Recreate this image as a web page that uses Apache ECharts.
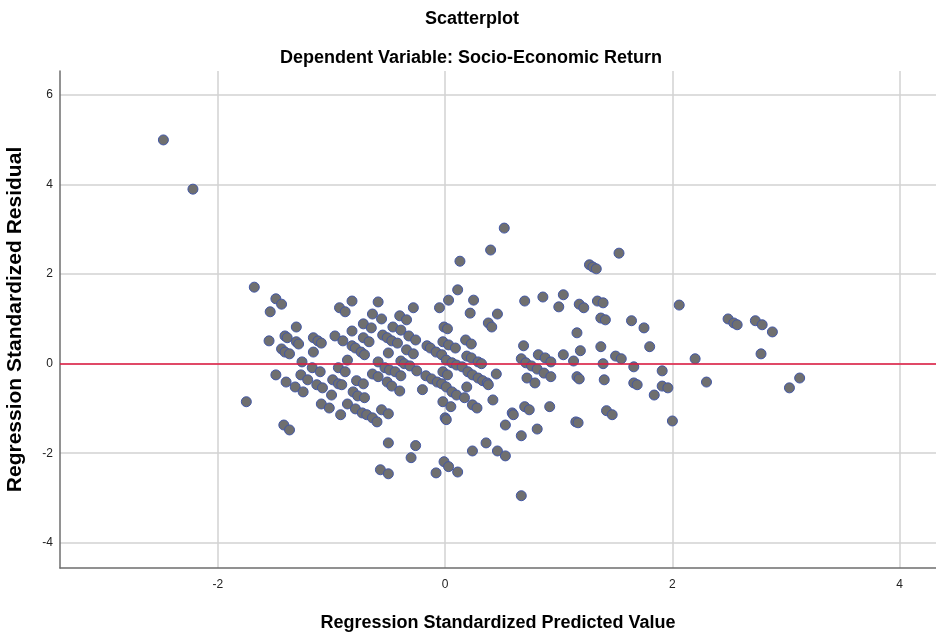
<!DOCTYPE html>
<html>
<head>
<meta charset="utf-8">
<script src="https://cdn.jsdelivr.net/npm/echarts@6/dist/echarts.min.js"></script>
<style>html,body{margin:0;padding:0;background:#fff}#c{width:936px;height:636px}</style>
</head>
<body>
<div id="c"></div>
<script>
// Chart text
const titleText = 'Scatterplot';
const subtitleText = 'Dependent Variable: Socio-Economic Return';
const xAxisTitle = 'Regression Standardized Predicted Value';
const yAxisTitle = 'Regression Standardized Residual';
const xTicks = [-2, 0, 2, 4];
const yTicks = [-4, -2, 0, 2, 4, 6];
const referenceY = 0;

// [predicted, residual] pairs, grouped by predicted-value band
const pointsOutliers = [[-2.48,5.00],[-2.22,3.90]];
const pointsFarLeft = [
  [-1.68,1.71],[-1.49,1.45],[-1.44,1.33],[-1.54,1.16],[-1.31,0.82],[-1.55,0.51],[-1.41,0.62],[-1.39,0.58],
  [-1.31,0.49],[-1.29,0.44],[-1.16,0.58],[-1.12,0.51],[-1.09,0.46],[-0.97,0.62],[-1.44,0.33],[-1.41,0.26],
  [-1.37,0.22],[-1.16,0.26],[-1.26,0.04],[-1.17,-0.09],[-1.10,-0.18],[-0.94,-0.09],[-1.49,-0.25],[-1.27,-0.25],
  [-1.21,-0.36],[-1.40,-0.41],[-1.32,-0.52],[-1.25,-0.63],[-1.13,-0.47],[-1.08,-0.54],[-0.99,-0.36],[-0.94,-0.45],
  [-1.75,-0.85],[-1.09,-0.90],[-1.02,-0.99],[-1.00,-0.70],[-1.42,-1.37],[-1.37,-1.48]
];
const pointsLeft = [
  [-0.82,1.40],[-0.93,1.25],[-0.88,1.16],[-0.59,1.38],[-0.64,1.11],[-0.56,1.00],[-0.72,0.89],[-0.65,0.80],
  [-0.82,0.73],[-0.90,0.51],[-0.72,0.58],[-0.67,0.49],[-0.82,0.40],[-0.79,0.35],[-0.74,0.26],[-0.71,0.20],
  [-0.86,0.08],[-0.55,0.64],[-0.51,0.58],[-0.47,0.51],[-0.42,0.46],[-0.46,0.82],[-0.40,1.07],[-0.34,0.98],
  [-0.28,1.25],[-0.39,0.75],[-0.32,0.62],[-0.26,0.53],[-0.34,0.31],[-0.28,0.22],[-0.50,0.24],[-0.59,0.04],
  [-0.39,0.06],[-0.36,0.00],[-0.31,-0.05],[-0.25,-0.16],[-0.16,0.40],[-0.13,0.35],[-0.08,0.26],[-0.05,1.25],
  [-0.88,-0.18],[-0.64,-0.23],[-0.59,-0.29],[-0.53,-0.09],[-0.49,-0.14],[-0.44,-0.18],[-0.39,-0.27],[-0.51,-0.41],
  [-0.47,-0.50],[-0.40,-0.61],[-0.20,-0.58],[-0.17,-0.27],[-0.12,-0.34],[-0.07,-0.41],[-0.91,-0.47],[-0.78,-0.38],
  [-0.72,-0.45],[-0.81,-0.63],[-0.77,-0.72],[-0.71,-0.76],
  [-0.92,-1.14],[-0.86,-0.90],[-0.79,-1.01],[-0.73,-1.10],[-0.69,-1.14],[-0.64,-1.21],[-0.60,-1.30],[-0.56,-1.03],
  [-0.50,-1.12],[-0.50,-1.77],[-0.57,-2.37],[-0.50,-2.46],[-0.30,-2.10],[-0.26,-1.83]
];
const pointsMid = [
  [0.52,3.03],[0.40,2.54],[0.13,2.29],[0.11,1.65],[0.03,1.42],[0.25,1.42],[0.22,1.13],[0.46,1.11],
  [0.38,0.91],[0.41,0.82],[-0.01,0.82],[0.02,0.78],[-0.02,0.49],[0.03,0.42],[0.09,0.35],[0.18,0.53],
  [0.23,0.44],[0.19,0.17],[0.23,0.13],[0.29,0.04],[0.32,0.00],[-0.03,0.20],[0.01,0.08],[0.06,0.02],
  [0.10,-0.03],[0.15,-0.07],[0.20,-0.18],[0.24,-0.25],[0.29,-0.32],[0.33,-0.38],[0.37,-0.43],[0.38,-0.47],
  [0.45,-0.23],[-0.02,-0.18],[0.02,-0.25],[-0.03,-0.45],[0.01,-0.52],[0.06,-0.63],[0.10,-0.70],[0.19,-0.52],
  [0.17,-0.76],[0.70,1.40],[0.86,1.49],[0.69,0.40],[0.82,0.20],[0.88,0.13],[0.67,0.11],[0.71,0.02],
  [0.76,-0.05],[0.81,-0.12],[0.87,-0.21],[0.72,-0.32],[0.79,-0.43],[0.42,-0.81],
  [-0.02,-0.85],[0.00,-1.21],[0.01,-1.25],[0.05,-0.96],[-0.01,-2.19],[0.03,-2.30],[-0.08,-2.44],[0.11,-2.42],
  [0.24,-0.92],[0.28,-0.99],[0.36,-1.77],[0.24,-1.95],[0.46,-1.95],[0.53,-2.06],[0.53,-1.37],[0.59,-1.10],
  [0.60,-1.14],[0.67,-1.61],[0.67,-2.95],[0.70,-0.96],[0.74,-1.03],[0.81,-1.46],[0.92,-0.96]
];
const pointsRight = [
  [1.53,2.47],[1.27,2.21],[1.30,2.16],[1.33,2.12],[1.04,1.54],[1.00,1.27],[1.18,1.33],[1.22,1.25],
  [1.34,1.40],[1.39,1.36],[1.37,1.02],[1.41,0.98],[1.64,0.96],[1.75,0.80],[1.16,0.69],[1.80,0.38],
  [1.19,0.29],[1.37,0.38],[1.04,0.20],[1.13,0.06],[1.50,0.17],[1.55,0.11],[1.39,0.00],[1.66,-0.07],
  [1.91,-0.16],[2.06,1.31],[0.93,0.04],[0.93,-0.29],[1.16,-0.29],[1.18,-0.34],[1.40,-0.36],[1.66,-0.43],
  [1.69,-0.47],[1.91,-0.50],[1.96,-0.54],[1.84,-0.70],[1.15,-1.30],[1.17,-1.32],[1.42,-1.05],[1.47,-1.14],
  [2.00,-1.28]
];
const pointsFarRight = [
  [2.20,0.11],[2.30,-0.41],[2.49,1.00],[2.54,0.91],[2.57,0.87],[2.73,0.96],[2.79,0.87],[2.88,0.71],
  [2.78,0.22],[3.12,-0.32],[3.03,-0.54]
];

const allPoints = [].concat(pointsOutliers, pointsFarLeft, pointsLeft, pointsMid, pointsRight, pointsFarRight);

const FONT = 'Liberation Sans, Arial, sans-serif';
const chart = echarts.init(document.getElementById('c'), null, {renderer: 'canvas'});
chart.setOption({
  animation: false,
  backgroundColor: '#ffffff',
  title: [
    {text: titleText, left: 467, textAlign: 'center', top: 5,
     textStyle: {fontFamily: FONT, fontSize: 18, fontWeight: 'bold', color: '#000'}},
    {text: subtitleText, left: 466, textAlign: 'center', top: 44,
     textStyle: {fontFamily: FONT, fontSize: 18, fontWeight: 'bold', color: '#000'}}
  ],
  grid: {left: 60, right: 0, top: 71, bottom: 68, containLabel: false, outerBoundsMode: 'none'},
  xAxis: {
    type: 'value', min: -3.39, max: 4.32,
    name: xAxisTitle, nameLocation: 'middle', nameGap: 46,
    nameTextStyle: {fontFamily: FONT, fontSize: 18, fontWeight: 'bold', color: '#000'},
    axisLine: {show: true, onZero: false, lineStyle: {color: '#6e6e6e', width: 1.5}},
    axisTick: {show: false, customValues: xTicks},
    axisLabel: {customValues: xTicks, fontFamily: FONT, fontSize: 12, color: '#222', margin: 11},
    splitLine: {show: true, lineStyle: {color: '#d2d2d2', width: 1.5}}
  },
  yAxis: {
    type: 'value', min: -4.565, max: 6.54,
    name: yAxisTitle, nameLocation: 'middle', nameGap: 34, nameRotate: 90,
    nameTextStyle: {fontFamily: FONT, fontSize: 21, fontWeight: 'bold', color: '#000'},
    axisLine: {show: true, onZero: false, lineStyle: {color: '#6e6e6e', width: 1.5}},
    axisTick: {show: false, customValues: yTicks},
    axisLabel: {customValues: yTicks, fontFamily: FONT, fontSize: 12, color: '#222', margin: 7},
    splitLine: {show: true, lineStyle: {color: '#d2d2d2', width: 1.5}}
  },
  series: [{
    type: 'scatter',
    data: allPoints,
    symbol: 'circle',
    symbolSize: 10,
    itemStyle: {color: '#6f6f6f', borderColor: '#4257a6', borderWidth: 1, opacity: 1},
    markLine: {
      silent: true, symbol: ['none', 'none'],
      label: {show: false},
      lineStyle: {color: '#e0173f', width: 1.5, type: 'solid'},
      data: [{yAxis: referenceY}]
    },
    z: 3
  }]
});
</script>
</body>
</html>
